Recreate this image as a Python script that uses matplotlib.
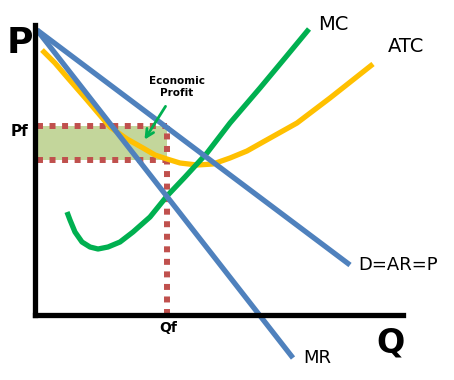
import matplotlib
matplotlib.use('Agg')
import matplotlib.pyplot as plt

# Coordenadas: cantidad (q) y precio (p) con origen en el cruce de ejes
demand_q = [2, 315]
demand_p = [285, 50]

mr_q = [2, 258]
mr_p = [285, -43]

mc_q = [32, 35, 40, 47, 55, 63, 73, 85, 98, 115, 132, 150, 172, 195, 225, 250, 274]
mc_p = [103, 95, 83, 73, 68, 66, 68, 73, 83, 98, 119, 138, 162, 192, 227, 257, 286]

atc_q = [7, 20, 32, 52, 75, 92, 108, 120, 132, 145, 162, 178, 195, 212, 228, 262, 295, 338]
atc_p = [265, 252, 238, 215, 188, 176, 167, 160, 156, 152, 150, 151, 157, 164, 173, 192, 217, 251]

qf = 132
pf = 189
atc_at_qf = 155

BLUE = '#4F81BD'
GREEN = '#00B050'
YELLOW = '#FFC000'
RED = '#C0504D'
FILL = '#C3D69B'

fig = plt.figure(figsize=(4.54, 3.80), dpi=100)
ax = fig.add_axes([0, 0, 1, 1])
ax.set_xlim(-35, 419)
ax.set_ylim(-65, 315)
ax.axis('off')

# area de beneficio economico
ax.fill_between([2, qf], [atc_at_qf, atc_at_qf], [pf, pf], color=FILL, lw=0, zorder=1)

dot = dict(color=RED, lw=4.3, linestyle=(0, (1, 1.1)), solid_capstyle='butt',
           dash_capstyle='butt', zorder=2)
ax.plot([2, qf], [pf, pf], **dot)
ax.plot([2, qf], [atc_at_qf, atc_at_qf], **dot)
ax.plot([qf, qf], [0, pf], **dot)

curve = dict(lw=3.8, solid_capstyle='butt', solid_joinstyle='round', zorder=3)
ax.plot(atc_q, atc_p, color=YELLOW, **curve)
ax.plot(mc_q, mc_p, color=GREEN, **curve)
ax.plot(demand_q, demand_p, color=BLUE, **curve)
ax.plot(mr_q, mr_p, color=BLUE, **curve)

# ejes
ax.plot([0, 0], [0, 290], color='black', lw=3.8, solid_capstyle='projecting', zorder=4)
ax.plot([0, 368], [0, 0], color='black', lw=3.8, solid_capstyle='projecting', zorder=4)

ax.text(-15, 272, 'P', fontsize=26, fontweight='bold', ha='center', va='center')
ax.text(356, -28, 'Q', fontsize=24, fontweight='bold', ha='center', va='center')
ax.text(-16, 183, 'Pf', fontsize=11, fontweight='bold', ha='center', va='center')
ax.text(qf + 1, -13, 'Qf', fontsize=10, fontweight='bold', ha='center', va='center')

ax.text(298, 290, 'MC', fontsize=14, ha='center', va='center')
ax.text(371, 269, 'ATC', fontsize=14, ha='center', va='center')
ax.text(363, 50, 'D=AR=P', fontsize=13, ha='center', va='center')
ax.text(282, -43, 'MR', fontsize=13, ha='center', va='center')

ax.text(142, 228, 'Economic\nProfit', fontsize=7.5, fontweight='bold',
        ha='center', va='center', linespacing=1.3)
ax.annotate('', xy=(108, 173), xytext=(132, 211),
            arrowprops=dict(arrowstyle='->', color=GREEN, lw=2, mutation_scale=14),
            zorder=5)

fig.savefig('out.png', dpi=100)
